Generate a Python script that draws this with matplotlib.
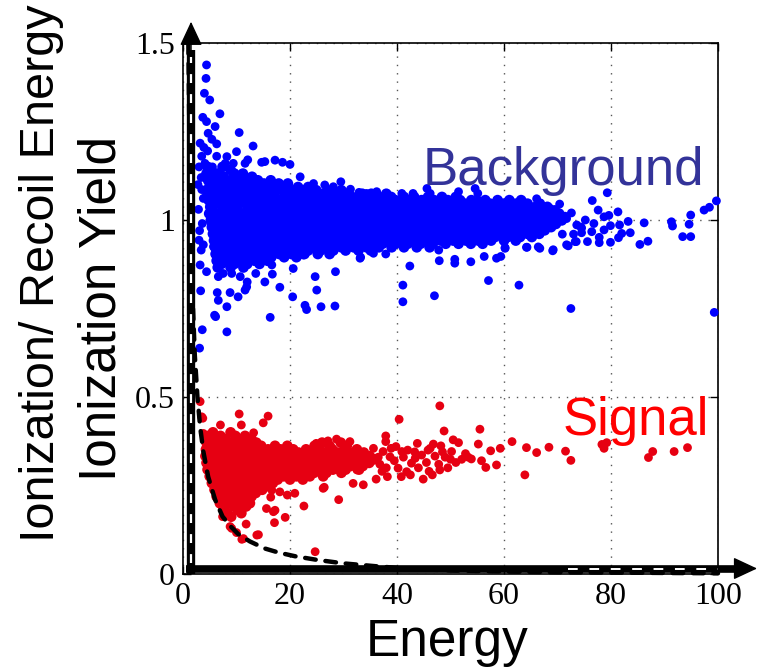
import matplotlib
matplotlib.use('Agg')
import matplotlib.pyplot as plt
from matplotlib import font_manager

# ---- data ----
# background (blue) dense core, one row of x values per yield level
bg_core_y = [1.150, 1.141, 1.131, 1.122, 1.112, 1.103, 1.093, 1.084, 1.074, 1.065,
             1.056, 1.046, 1.037, 1.027, 1.018, 1.008, 0.999, 0.989, 0.980, 0.971,
             0.961, 0.952, 0.942, 0.933, 0.923, 0.914, 0.904, 0.895, 0.885, 0.876, 0.866]
bg_core_x = [
    [4.6, 7.4],
    [5.3, 8.9],
    [4.4, 6.5, 9.6, 11.2],
    [5.2, 7.6, 10.1, 12.9],
    [4.7, 6.9, 8.8, 11.5, 14.0, 16.4],
    [5.6, 8.1, 10.4, 13.2, 15.1, 17.9, 19.6],
    [4.9, 7.0, 9.5, 11.9, 14.3, 16.6, 18.8, 21.5, 23.4],
    [5.4, 8.3, 10.6, 12.8, 15.4, 17.5, 20.2, 22.3, 24.9, 27.0, 29.6],
    [4.6, 6.8, 9.2, 11.7, 13.9, 16.2, 19.0, 21.4, 23.6, 26.1, 28.4, 30.7, 33.5, 35.2, 38.0],
    [5.7, 7.9, 10.2, 12.5, 15.0, 17.2, 19.8, 22.1, 24.3, 27.2, 29.5, 31.6, 34.0, 36.6, 38.9,
     41.3, 43.2, 45.8, 48.4, 51.0],
    [4.8, 7.1, 9.0, 11.4, 13.8, 16.0, 18.4, 20.7, 23.3, 25.6, 27.9, 30.4, 32.6, 35.1, 37.5,
     39.7, 42.2, 44.6, 46.9, 49.5, 51.8, 53.9, 56.5, 58.8, 61.0, 63.2],
    [5.9, 8.2, 10.5, 12.9, 15.3, 17.6, 19.5, 22.0, 24.6, 26.8, 29.1, 31.5, 33.9, 36.2, 38.4,
     40.9, 43.5, 45.7, 48.0, 50.4, 52.7, 55.2, 57.4, 59.9, 62.2, 64.4, 66.7],
    [5.1, 7.3, 9.7, 12.1, 14.2, 16.7, 18.9, 21.2, 23.7, 25.8, 28.2, 30.6, 32.9, 35.4, 37.6,
     39.9, 42.4, 44.8, 47.2, 49.3, 51.9, 54.1, 56.4, 58.9, 61.3, 63.7, 65.9, 68.1],
    [5.5, 8.0, 10.3, 12.6, 15.1, 17.4, 19.9, 22.5, 24.8, 27.1, 29.4, 31.9, 34.3, 36.5, 38.9,
     41.2, 43.7, 45.9, 48.5, 50.8, 53.1, 55.4, 57.8, 60.2, 62.5, 64.9, 67.3, 69.5],
    [4.9, 6.9, 9.3, 11.6, 14.0, 16.4, 18.6, 21.0, 23.4, 25.9, 28.0, 30.5, 32.8, 35.0, 37.4,
     39.8, 42.1, 44.4, 46.8, 49.2, 51.5, 53.9, 56.2, 58.5, 61.0, 63.3, 65.6, 68.0, 70.3],
    [5.8, 8.1, 10.6, 12.8, 15.2, 17.6, 19.8, 22.2, 24.7, 27.0, 29.3, 31.7, 34.1, 36.3, 38.7,
     41.0, 43.4, 45.8, 48.1, 50.4, 52.8, 55.1, 57.5, 59.8, 62.2, 64.6, 66.9, 69.2, 71.4],
    [5.2, 7.4, 9.8, 12.2, 14.5, 16.8, 19.1, 21.6, 23.9, 26.2, 28.6, 30.9, 33.2, 35.6, 37.9,
     40.3, 42.7, 45.0, 47.4, 49.7, 52.0, 54.4, 56.8, 59.1, 61.5, 63.8, 66.1, 68.5, 70.8],
    [6.0, 8.4, 10.8, 13.1, 15.4, 17.9, 20.3, 22.6, 24.9, 27.4, 29.7, 32.0, 34.5, 36.8, 39.1,
     41.6, 43.9, 46.3, 48.6, 50.9, 53.3, 55.7, 58.0, 60.4, 62.7, 65.0, 67.4, 69.7],
    [5.4, 7.7, 10.0, 12.4, 14.7, 17.1, 19.4, 21.8, 24.2, 26.5, 28.9, 31.2, 33.6, 35.9, 38.3,
     40.6, 43.0, 45.3, 47.7, 50.0, 52.4, 54.7, 57.1, 59.4, 61.8, 64.1, 66.5, 68.8],
    [6.2, 8.6, 11.0, 13.4, 15.7, 18.1, 20.5, 22.9, 25.1, 27.6, 29.9, 32.3, 34.6, 37.0, 39.4,
     41.7, 44.1, 46.4, 48.8, 51.1, 53.5, 55.8, 58.2, 60.5, 62.9, 65.3, 67.6],
    [5.6, 7.9, 10.2, 12.6, 15.0, 17.3, 19.7, 22.1, 24.4, 26.8, 29.1, 31.5, 33.8, 36.2, 38.5,
     40.9, 43.2, 45.6, 48.0, 50.3, 52.7, 55.0, 57.4, 59.7, 62.1, 64.4, 66.6],
    [6.4, 8.8, 11.2, 13.5, 15.9, 18.3, 20.6, 23.0, 25.4, 27.7, 30.1, 32.4, 34.8, 37.1, 39.5,
     41.9, 44.2, 46.6, 48.9, 51.3, 53.6, 56.0, 58.3, 60.7, 63.0, 65.2],
    [5.8, 8.1, 10.4, 12.8, 15.2, 17.5, 19.9, 22.3, 24.6, 27.0, 29.3, 31.7, 34.0, 36.4, 38.8,
     41.1, 43.5, 45.8, 48.2, 50.5, 52.9, 55.2, 57.6, 60.0, 62.2],
    [6.6, 9.0, 11.4, 13.7, 16.1, 18.5, 20.8, 23.2, 25.5, 27.9, 30.3, 32.6, 35.0, 37.3, 39.7,
     42.0, 44.4, 46.7, 49.1, 51.5, 53.8, 56.0],
    [6.0, 8.3, 10.7, 13.0, 15.4, 17.8, 20.1, 22.5, 24.8, 27.2, 29.6, 31.9, 34.3, 36.6, 39.0,
     41.3, 43.7, 46.1],
    [6.8, 9.2, 11.6, 13.9, 16.3, 18.7, 21.0, 23.4, 25.7, 28.1, 30.4, 32.8, 35.1],
    [6.1, 8.5, 10.9, 13.2, 15.6, 18.0, 20.3, 22.7, 25.2, 27.4],
    [7.0, 9.4, 11.8, 14.1, 16.5, 18.9, 21.2],
    [6.3, 8.7, 11.1, 13.4, 15.8],
    [7.2, 9.6, 12.0, 14.3],
    [6.5, 8.9, 11.3],
]

# background (blue) scattered points outside the core
bg_pts = [
    (4.4, 1.438), (4.3, 1.400), (4.0, 1.358), (5.0, 1.339), (6.9, 1.300), (3.7, 1.290), (4.4, 1.278),
    (6.0, 1.264), (10.5, 1.247), (4.7, 1.245), (5.4, 1.228), (3.2, 1.217), (6.3, 1.215), (13.1, 1.209),
    (3.9, 1.205), (4.6, 1.195), (10.0, 1.193), (6.3, 1.180), (8.2, 1.179), (4.1, 1.160), (5.5, 1.150),
    (7.9, 1.160), (9.4, 1.160), (11.6, 1.160), (12.1, 1.170), (14.7, 1.163), (15.3, 1.165), (17.2, 1.169),
    (18.6, 1.163), (20.0, 1.157), (21.9, 1.122), (24.4, 1.103), (26.5, 1.099), (28.1, 1.094), (29.5, 1.108),
    (31.3, 1.087), (32.9, 1.078), (36.2, 1.080), (34.3, 1.075), (38.4, 1.066), (40.9, 1.075), (43.0, 1.075),
    (45.6, 1.089), (46.2, 1.075), (51.5, 1.080), (54.6, 1.089), (55.1, 1.075), (55.2, 1.055), (64.3, 1.047),
    (66.1, 1.060), (68.6, 1.033), (71.7, 1.004), (73.6, 0.986), (74.5, 0.977), (73.3, 0.939), (71.7, 0.930),
    (69.2, 0.916), (66.7, 0.920), (64.3, 0.923), (60.2, 0.920), (47.8, 0.915), (37.9, 0.904), (3.5, 1.086),
    (3.8, 1.061), (5.2, 0.991), (3.0, 0.943), (3.4, 0.915), (3.2, 0.873), (4.4, 0.854), (5.7, 0.925),
    (6.6, 0.901), (6.6, 0.840), (7.5, 0.849), (8.8, 0.877), (9.1, 0.849), (10.7, 0.840), (11.9, 0.873),
    (13.6, 0.849), (14.4, 0.877), (15.3, 0.825), (16.6, 0.873), (16.7, 0.847), (11.9, 0.811), (11.6, 0.802),
    (6.4, 0.795), (6.6, 0.773), (8.8, 0.795), (10.3, 0.783), (8.2, 0.755), (5.9, 0.731), (6.1, 0.727),
    (8.2, 0.684), (16.3, 0.725), (18.1, 0.810), (20.5, 0.783), (20.6, 0.863), (24.7, 0.840), (25.0, 0.802),
    (22.8, 0.759), (23.1, 0.747), (25.8, 0.755), (28.4, 0.757), (28.5, 0.854), (33.2, 0.895), (22.5, 0.901),
    (3.1, 0.638), (3.6, 0.690), (3.3, 0.800), (12.0, 0.825), (41.1, 0.816), (41.1, 0.769), (47.0, 0.786),
    (57.1, 0.829), (62.8, 0.816), (42.4, 0.870), (47.9, 0.885), (50.8, 0.889), (50.8, 0.878), (53.8, 0.882),
    (56.3, 0.897), (58.6, 0.892), (59.4, 0.897), (35.6, 0.906), (33.1, 0.892), (60.2, 0.922), (64.2, 0.923),
    (66.4, 0.924), (69.1, 0.913), (76.5, 1.055), (79.3, 1.077), (77.6, 1.028), (78.7, 1.009), (79.6, 1.013),
    (81.3, 1.023), (83.2, 0.996), (81.6, 0.986), (79.9, 0.984), (82.0, 0.962), (83.6, 0.964), (81.4, 0.950),
    (78.7, 0.972), (76.4, 0.967), (77.8, 0.951), (77.8, 0.936), (75.6, 0.939), (79.9, 0.937), (73.5, 0.939),
    (74.5, 0.964), (74.4, 0.980), (72.0, 0.927), (86.2, 0.992), (85.4, 0.931), (86.9, 0.940), (91.3, 0.995),
    (91.5, 0.983), (94.6, 0.988), (94.9, 1.014), (93.4, 0.953), (94.9, 0.953), (97.4, 1.028), (98.4, 1.036),
    (99.7, 1.054), (99.3, 0.739), (72.5, 0.750), (70.4, 1.045), (72.6, 1.020), (70.9, 0.960), (73.0, 0.960),
    (75.2, 1.000), (76.8, 0.990), (3.0, 1.150), (3.4, 1.120), (2.9, 1.030), (3.6, 0.990), (3.1, 0.970),
    (3.8, 0.930), (2.8, 1.100), (3.5, 1.180),
]

# signal (red) dense core rows
sig_core_y = [0.400, 0.390, 0.381, 0.371, 0.362, 0.352, 0.343, 0.333, 0.324, 0.314,
              0.305, 0.295, 0.286, 0.276, 0.267, 0.257, 0.248, 0.238, 0.229, 0.219,
              0.210, 0.200, 0.191, 0.181, 0.172, 0.162]
sig_core_x = [
    [5.6, 8.9],
    [4.7, 7.0, 9.8, 11.6],
    [5.5, 7.9, 10.4, 12.8],
    [4.4, 6.6, 9.0, 11.3, 13.7, 26.0, 29.5],
    [5.2, 7.6, 9.9, 12.3, 14.6, 17.2, 19.5, 24.6, 27.4, 30.6],
    [4.3, 6.5, 8.8, 11.1, 13.5, 15.9, 18.2, 20.6, 23.0, 25.5, 27.9, 30.2, 32.5],
    [5.0, 7.4, 9.7, 12.1, 14.4, 16.8, 19.2, 21.6, 24.1, 26.4, 28.8, 31.2, 33.8],
    [4.2, 6.3, 8.6, 10.9, 13.3, 15.6, 18.0, 20.4, 22.8, 25.1, 27.5, 29.9, 32.2, 34.9],
    [5.1, 7.5, 9.8, 12.2, 14.5, 16.9, 19.3, 21.6, 24.0, 26.3, 28.7, 31.0, 33.4, 35.7],
    [4.4, 6.6, 8.9, 11.2, 13.6, 15.9, 18.3, 20.7, 23.0, 25.4, 27.8, 30.1, 32.5, 34.8],
    [5.3, 7.7, 10.0, 12.4, 14.8, 17.1, 19.5, 21.8, 24.2, 26.6, 28.9, 31.3, 33.6],
    [4.6, 6.8, 9.1, 11.5, 13.9, 16.2, 18.6, 20.9, 23.3, 25.7, 28.0, 30.4, 32.9],
    [5.5, 7.9, 10.3, 12.6, 15.0, 17.4, 19.7, 22.1, 24.5, 26.8, 29.6],
    [5.0, 7.1, 9.4, 11.8, 14.1, 16.5, 18.8, 21.2, 23.7, 26.2],
    [5.8, 8.2, 10.6, 12.9, 15.3, 17.7, 20.0, 22.4],
    [5.4, 7.4, 9.7, 12.0, 14.4, 16.8],
    [6.2, 8.5, 10.9, 13.3, 15.6],
    [5.9, 7.8, 10.1, 12.5, 14.8],
    [6.6, 8.9, 11.3, 13.6],
    [6.3, 8.1, 10.4, 12.8],
    [7.0, 9.2, 11.6],
    [6.9, 8.4, 10.7, 12.5],
    [7.5, 9.6, 11.8],
    [7.8, 10.2],
    [8.3, 10.9],
    [9.0],
]

# signal (red) scattered points
sig_pts = [
    (3.2, 0.487), (3.5, 0.444), (3.7, 0.440), (3.8, 0.397), (10.5, 0.452), (15.9, 0.446), (10.9, 0.421),
    (15.0, 0.427), (7.0, 0.421), (13.2, 0.399), (8.8, 0.134), (11.0, 0.098), (13.8, 0.110), (11.8, 0.141),
    (17.1, 0.145), (19.1, 0.160), (16.9, 0.176), (22.6, 0.192), (19.5, 0.223), (29.1, 0.210), (24.7, 0.063),
    (7.4, 0.162), (24.9, 0.369), (28.7, 0.381), (27.1, 0.376), (31.2, 0.374), (35.6, 0.355), (36.1, 0.268),
    (31.8, 0.256), (26.4, 0.245), (20.9, 0.228), (14.1, 0.111), (11.3, 0.100), (10.0, 0.117), (9.1, 0.129),
    (16.6, 0.237), (18.1, 0.232), (16.4, 0.217), (15.6, 0.185), (17.2, 0.180), (26.2, 0.242), (33.7, 0.252),
    (32.5, 0.294), (34.0, 0.322), (48.0, 0.475), (40.4, 0.437), (48.8, 0.404), (55.5, 0.409), (37.9, 0.390),
    (37.9, 0.374), (50.5, 0.379), (51.5, 0.371), (43.8, 0.369), (46.8, 0.367), (48.2, 0.362), (55.2, 0.367),
    (61.5, 0.374), (64.2, 0.357), (66.1, 0.343), (68.4, 0.358), (71.5, 0.347), (72.5, 0.321), (78.3, 0.366),
    (79.2, 0.371), (78.7, 0.355), (87.0, 0.329), (87.8, 0.346), (91.8, 0.346), (94.3, 0.357), (63.9, 0.280),
    (57.5, 0.348), (59.3, 0.355), (55.8, 0.320), (56.6, 0.301), (58.6, 0.308), (40.2, 0.299), (41.8, 0.289),
    (44.9, 0.268), (46.6, 0.280), (48.0, 0.294), (43.4, 0.327), (44.6, 0.336), (47.1, 0.333), (50.2, 0.346),
    (53.3, 0.330), (52.1, 0.324), (50.0, 0.324), (38.7, 0.331), (38.2, 0.275), (42.7, 0.313), (40.9, 0.346),
    (46.2, 0.355), (37.4, 0.346), (39.5, 0.320), (41.2, 0.330), (42.0, 0.350), (44.0, 0.300), (45.5, 0.315),
    (46.0, 0.290), (47.8, 0.310), (49.0, 0.330), (49.5, 0.300), (51.0, 0.315), (52.8, 0.340), (53.9, 0.325),
    (36.8, 0.310), (37.2, 0.290), (38.9, 0.355), (39.8, 0.360), (42.5, 0.280), (43.3, 0.345), (45.8, 0.350),
    (48.5, 0.345), (36.5, 0.330), (38.0, 0.300), (40.8, 0.275),
]

# dashed threshold curve
cut_x = [1.0, 1.3, 1.7, 2.2, 2.7, 3.2, 3.8, 4.7, 6.0, 7.4, 9.0, 10.3, 12.5, 15.3, 18.0,
         21.0, 25.0, 30.0, 36.0, 42.0, 50.0, 60.0, 70.0, 80.0, 90.0, 100.0]
cut_y = [1.50, 1.10, 0.82, 0.62, 0.50, 0.416, 0.346, 0.275, 0.21, 0.162, 0.133, 0.113, 0.092,
         0.072, 0.060, 0.050, 0.040, 0.030, 0.022, 0.015, 0.010, 0.007, 0.005, 0.004, 0.003, 0.002]

x_ticks = [0, 20, 40, 60, 80, 100]
y_ticks = [0, 0.5, 1, 1.5]
y_tick_labels = ['0', '0.5', '1', '1.5']

# ---- expand rows into point lists ----
bgc_x, bgc_y = [], []
for yy, xs in zip(bg_core_y, bg_core_x):
    bgc_x += xs
    bgc_y += [yy] * len(xs)
bgs_x = [p[0] for p in bg_pts]
bgs_y = [p[1] for p in bg_pts]

sgc_x, sgc_y = [], []
for yy, xs in zip(sig_core_y, sig_core_x):
    sgc_x += xs
    sgc_y += [yy] * len(xs)
sgs_x = [p[0] for p in sig_pts]
sgs_y = [p[1] for p in sig_pts]

names = {f.name for f in font_manager.fontManager.ttflist}
serif = 'Liberation Serif'
sans = 'Liberation Sans'
if 'Liberation Sans Narrow' in names:
    narrow, narrow_size = 'Liberation Sans Narrow', 45
else:
    narrow, narrow_size = 'Liberation Sans', 37

blue = '#0000ff'
red = '#e60012'

fig = plt.figure(figsize=(7.6, 6.69), dpi=100)
ax = fig.add_axes([183 / 760, 95 / 669, 535 / 760, 531 / 669])
ax.set_xlim(0, 100)
ax.set_ylim(0, 1.5)

ax.grid(True, linestyle=(0, (1, 5)), color='#555555', lw=1.0)
ax.set_axisbelow(True)

# the packed core rows get a slightly larger dot so the cloud reads as solid
ax.scatter(bgc_x, bgc_y, s=60, c=blue, edgecolors='none', zorder=3, clip_on=False)
ax.scatter(bgs_x, bgs_y, s=40, c=blue, edgecolors='none', zorder=3, clip_on=False)
ax.scatter(sgc_x, sgc_y, s=60, c=red, edgecolors='none', zorder=3, clip_on=False)
ax.scatter(sgs_x, sgs_y, s=40, c=red, edgecolors='none', zorder=3, clip_on=False)
ax.plot(cut_x, cut_y, color='k', lw=3.2, linestyle=(0, (2.4, 2.2)),
        dash_capstyle='round', zorder=4, clip_on=False)

# thick arrow axes
ax.plot([1.5, 1.5], [0.0, 1.48], color='k', lw=6, solid_capstyle='butt', clip_on=False, zorder=5)
ax.plot([1.5, 1.5], [0.03, 1.46], color='w', lw=1.6, linestyle=(0, (4, 5)), clip_on=False, zorder=6)
ax.annotate('', xy=(1.5, 1.56), xytext=(1.5, 1.47),
            arrowprops=dict(arrowstyle='-|>,head_length=1.5,head_width=0.7', color='k', lw=1,
                            shrinkA=0, shrinkB=0), annotation_clip=False, zorder=6)
ax.plot([0.6, 104.0], [0.0155, 0.0155], color='k', lw=5.5, solid_capstyle='butt', clip_on=False, zorder=5)
ax.plot([72.0, 100.0], [0.0155, 0.0155], color='w', lw=1.4, linestyle=(0, (5, 6)), clip_on=False, zorder=6)
ax.annotate('', xy=(107.3, 0.0155), xytext=(103.0, 0.0155),
            arrowprops=dict(arrowstyle='-|>,head_length=1.5,head_width=0.7', color='k', lw=1,
                            shrinkA=0, shrinkB=0), annotation_clip=False, zorder=6)

for sp in ax.spines.values():
    sp.set_linewidth(1.2)

ax.set_xticks(x_ticks)
ax.set_yticks(y_ticks, y_tick_labels)
ax.tick_params(direction='in', length=6, width=1, top=True, right=True, labelsize=23, pad=6)
for lab in ax.get_xticklabels() + ax.get_yticklabels():
    lab.set_family(serif)

ax.text(44.8, 1.099, 'Background', color='#333399', fontsize=38, family=sans, ha='left', va='baseline', zorder=7)
ax.text(71.0, 0.393, 'Signal', color='#ff0000', fontsize=38, family=sans, ha='left', va='baseline', zorder=7)

fig.text(447 / 760, 13 / 669, 'Energy', fontsize=37, family=sans, ha='center', va='baseline')
fig.text(54 / 760, 1 - 273 / 669, 'Ionization/ Recoil Energy', fontsize=35, family=sans,
         rotation=90, rotation_mode='anchor', ha='center', va='baseline')
fig.text(115 / 760, 1 - 308.5 / 669, 'Ionization Yield', fontsize=narrow_size, family=narrow,
         rotation=90, rotation_mode='anchor', ha='center', va='baseline')

fig.savefig('out.png', dpi=100)
